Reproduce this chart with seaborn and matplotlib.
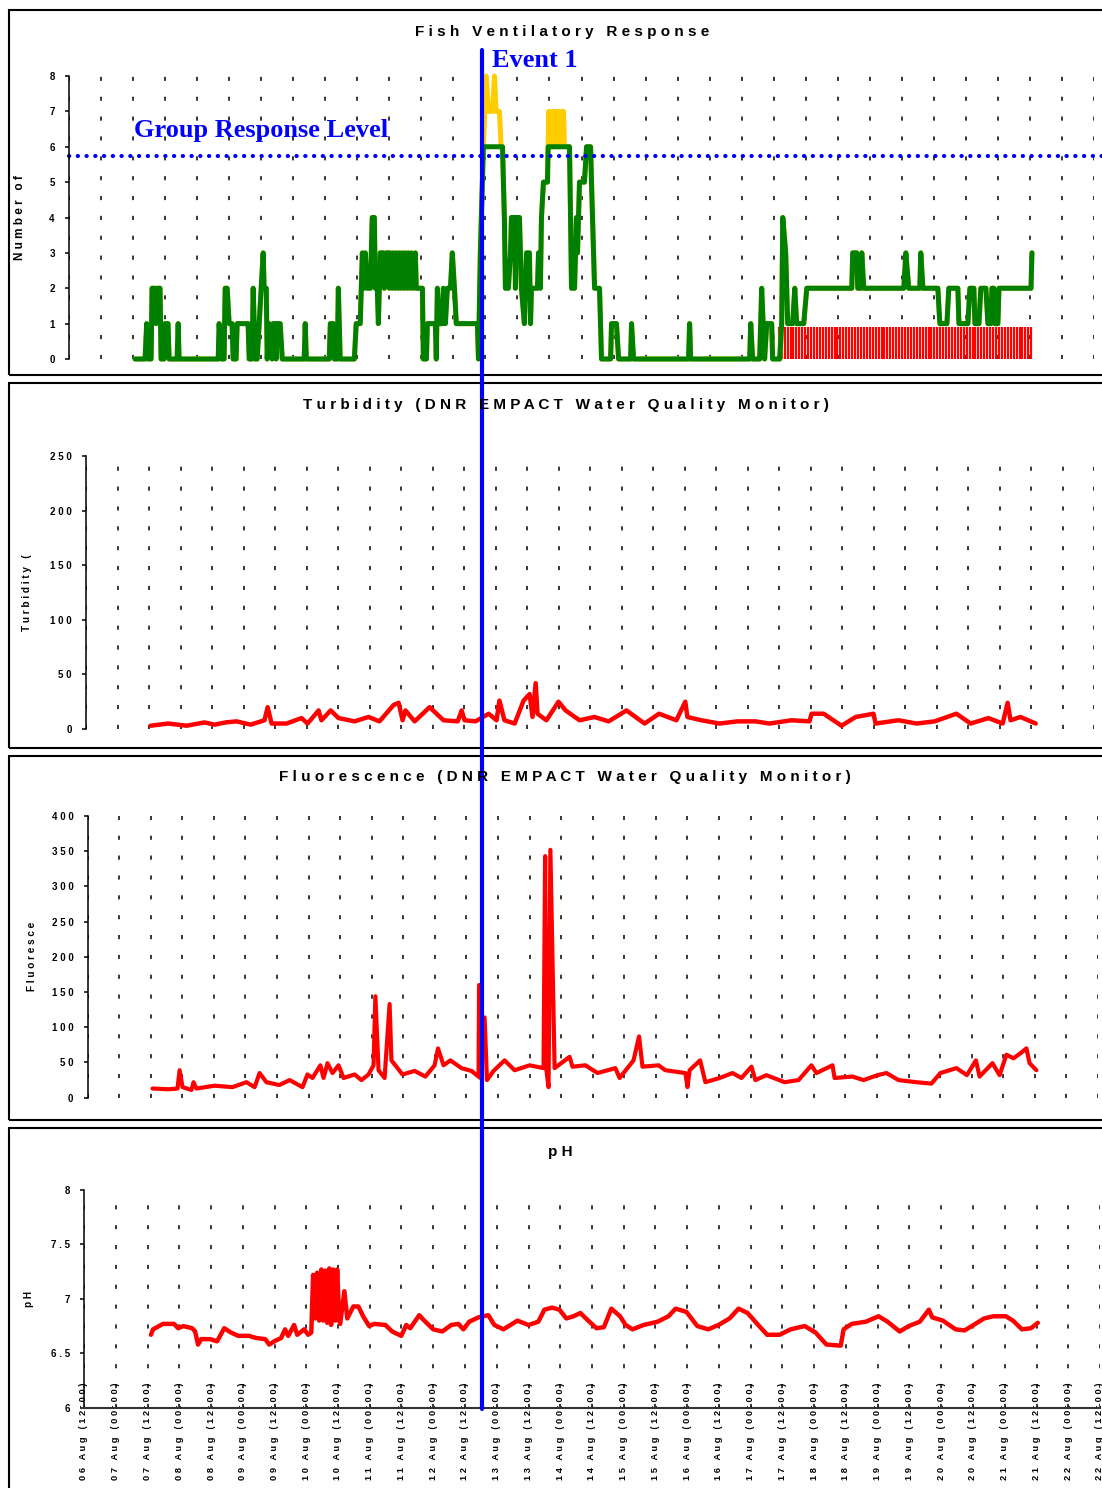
import numpy as np
import matplotlib
matplotlib.use('Agg')
import matplotlib.pyplot as plt
from matplotlib.lines import Line2D
from matplotlib.patches import Rectangle
import seaborn as sns

# all x values are hours after 06 Aug 12:00
tick_labels = ['06 Aug (12:00)', '07 Aug (00:00)', '07 Aug (12:00)', '08 Aug (00:00)', '08 Aug (12:00)',
               '09 Aug (00:00)', '09 Aug (12:00)', '10 Aug (00:00)', '10 Aug (12:00)', '11 Aug (00:00)',
               '11 Aug (12:00)', '12 Aug (00:00)', '12 Aug (12:00)', '13 Aug (00:00)', '13 Aug (12:00)',
               '14 Aug (00:00)', '14 Aug (12:00)', '15 Aug (00:00)', '15 Aug (12:00)', '16 Aug (00:00)',
               '16 Aug (12:00)', '17 Aug (00:00)', '17 Aug (12:00)', '18 Aug (00:00)', '18 Aug (12:00)',
               '19 Aug (00:00)', '19 Aug (12:00)', '20 Aug (00:00)', '20 Aug (12:00)', '21 Aug (00:00)',
               '21 Aug (12:00)', '22 Aug (00:00)', '22 Aug (12:00)']

# Fish ventilatory response: number of fish responding
fish_hours = [24.75, 28.5, 29.1, 29.6, 30.75, 31.1, 32.25, 32.6, 33, 34.1, 34.5, 35.6, 36, 37.1, 37.5, 40.5, 40.9, 41.25,
              55.9, 56.25, 57, 58.1, 58.5, 59.25, 60, 61.1, 61.5, 62.6, 63, 67.1, 67.5, 68.6, 69, 69.75, 70.5, 71.25,
              72, 72.75, 73.1, 73.9, 74.25, 75, 76.1, 76.5, 77.25, 77.6, 78, 79.1, 79.9, 88.1, 88.5, 88.9, 97.5, 97.9,
              99, 99.4, 100.5, 100.9, 101.6, 106.9, 107.6, 109.1, 109.9, 110.6, 111, 111.75, 112.9, 113.6, 114.4,
              114.75, 115.5, 115.9, 116.6, 117.75, 118.1, 118.9, 119.6, 120, 120.4, 121.1, 121.5, 122.25, 122.6,
              123.4, 123.75, 124.5, 124.9, 125.6, 126, 126.75, 127.1, 127.9, 128.25, 129, 129.75, 130.1, 132.4,
              132.75, 133.9, 134.25, 137.25, 137.6, 138, 138.75, 139.9, 140.25, 141, 141.75, 142.9, 143.6, 144.4,
              145.1, 153, 153.4, 154.1, 155.25, 156.25, 157.25, 158.75, 159.4, 160, 161.25, 161.9, 162.4, 163.1,
              163.5, 164.6, 165.4, 165.75, 166.9, 167.25, 167.6, 168.75, 169.5, 170.6, 171.4, 172.5, 172.9, 173.25,
              175.5, 175.9, 176.6, 177, 177.75, 179.25, 179.5, 179.75, 180.4, 181, 181.6, 182.2, 182.8, 183.4, 184,
              184.6, 185.25, 185.6, 187.5, 187.9, 188.25, 189.4, 190.1, 190.5, 191.25, 193.1, 193.9, 195.4, 195.75,
              196.9, 198.75, 199.5, 202.9, 203.25, 205.1, 205.9, 210.4, 210.75, 211.5, 232.1, 232.5, 232.9, 255,
              255.4, 256.1, 258.75, 259.5, 260.6, 261.4, 263.25, 263.6, 266.25, 267, 267.4, 268.5, 269.25, 271.1,
              271.9, 272.6, 275.25, 276.4, 293.25, 293.6, 295.1, 295.5, 296.6, 297, 297.75, 312.75, 313.5, 314.6,
              318.75, 319.1, 319.9, 325.5, 326.25, 328.9, 329.6, 333, 333.4, 336.75, 337.5, 339, 339.4, 340.9,
              341.6, 343.5, 344.25, 345.4, 345.75, 346.5, 346.9, 348, 348.4, 360.4, 360.75]
fish_count = [0, 0, 1, 0, 0, 2, 2, 1, 2, 2, 0, 0, 1, 1, 0, 0, 1, 0,
              0, 1, 0, 0, 2, 2, 1, 1, 0, 0, 1, 1, 0, 0, 2, 0, 0, 1,
              2, 3, 2, 2, 0, 1, 0, 1, 1, 0, 1, 1, 0, 0, 1, 0, 0, 1,
              1, 0, 0, 2, 0, 0, 1, 1, 3, 2, 3, 2, 2, 4, 4,
              2, 2, 1, 3, 3, 2, 3, 3, 2, 3, 2, 3, 2, 3,
              2, 3, 2, 3, 2, 3, 2, 3, 2, 3, 2, 3, 2, 2,
              0, 0, 1, 1, 0, 2, 1, 1, 2, 1, 2, 2, 3, 2,
              1, 1, 0, 3, 6, 8, 7, 7, 8, 7, 7, 6, 6, 4,
              2, 2, 3, 4, 4, 2, 4, 4, 2, 1, 3, 3, 1, 2,
              2, 3, 2, 4, 5, 5, 6, 7, 6, 7, 6, 7, 6, 7, 6,
              7, 7, 6, 6, 4, 2, 2, 4, 3, 5, 5, 6, 6, 5,
              2, 2, 0, 0, 1, 1, 0, 0, 1, 0, 0, 1, 0, 0,
              1, 0, 0, 2, 0, 1, 1, 0, 0, 1, 4, 3, 1, 1,
              2, 1, 1, 2, 2, 3, 3, 2, 2, 3, 2, 2, 3, 2,
              2, 3, 2, 2, 1, 1, 2, 2, 1, 1, 2, 2, 1, 1,
              2, 2, 1, 1, 2, 2, 1, 1, 2, 2, 3]
response_cap = 6          # counts above this are drawn in yellow
group_level = 5.75
red_start, red_end, red_step, red_level = 265.9, 361.1, 1.1, 0.9

# Turbidity (DNR EMPACT)
turb_hours = [24.6, 31.4, 38.3, 45.1, 49.0, 53.1, 57.3, 62.7, 68.0, 69.2, 70.7, 76.4, 82.1, 84.4, 88.6, 89.7, 93.2,
              96.2, 102.3, 107.6, 111.8, 117.2, 119.1, 120.6, 121.7, 125.2, 130.9, 136.2, 141.6, 143.1, 144.2, 148.4,
              153.4, 156.4, 157.5, 159.4, 163.3, 166.7, 169.0, 170.1, 171.3, 172.0, 175.4, 180.0, 182.7, 188.0, 193.7,
              199.1, 205.9, 212.8, 218.3, 224.9, 228.3, 229.1, 234.4, 241.3, 248.2, 255.0, 260.4, 268.8, 275.6, 276.4,
              281.0, 287.8, 293.2, 300.0, 300.8, 309.5, 316.4, 323.3, 331.6, 337.0, 343.8, 349.2, 351.1, 352.2, 356.0,
              361.8]
turb_vals = [3, 5, 3, 6, 4, 6, 7, 4, 8, 20, 5, 5, 10, 5, 17, 8, 17,
             10, 7, 11, 7, 22, 24, 8, 17, 7, 20, 8, 7, 17, 8, 7,
             14, 8, 26, 8, 5, 26, 32, 11, 42, 14, 8, 25, 17, 8, 11,
             7, 17, 5, 14, 8, 25, 11, 8, 5, 7, 7, 5, 8, 7, 14,
             14, 3, 11, 14, 5, 8, 5, 7, 14, 5, 10, 5, 24, 8, 11,
             5]

# Fluorescence (DNR EMPACT)
fl_hours = [24.7, 30.8, 34.2, 35.0, 36.1, 39.5, 40.3, 41.4, 48.3, 55.1, 60.4, 63.5, 65.4, 68.0, 72.9, 76.8, 81.7,
            83.6, 85.5, 88.5, 89.7, 91.2, 93.1, 95.4, 97.3, 101.5, 104.1, 106.8, 108.7, 109.4, 110.6, 112.9, 114.8,
            115.5, 119.7, 124.3, 128.4, 131.9, 133.2, 135.3, 137.9, 142.1, 145.9, 148.6, 148.8, 149.3, 150.9, 151.8,
            154.3, 158.5, 162.3, 168.0, 173.3, 173.9, 174.4, 175.2, 175.9, 177.5, 183.2, 184.3, 189.2, 193.8, 200.6,
            202.2, 207.5, 209.6, 210.9, 217.0, 219.6, 227.2, 228.0, 228.8, 232.8, 234.8, 240.2, 245.1, 248.5, 252.3,
            253.8, 258.0, 264.9, 270.2, 275.1, 277.0, 283.1, 283.9, 290.7, 294.9, 300.2, 303.6, 308.2, 315.0, 320.7,
            324.1, 330.2, 334.2, 337.6, 339.0, 343.9, 346.6, 349.2, 351.9, 354.5, 356.8, 358.0, 360.6]
fl_vals = [13, 12, 13, 39, 15, 11, 22, 13, 17, 15, 22, 15, 35, 22, 18, 25, 15,
           33, 28, 46, 28, 49, 35, 46, 28, 33, 25, 33, 46, 144, 39, 28, 133,
           53, 33, 38, 30, 46, 70, 46, 53, 42, 38, 30, 160, 28, 114, 25,
           38, 53, 39, 46, 42, 343, 39, 15, 352, 42, 58, 44, 46, 35, 42,
           28, 53, 87, 44, 46, 39, 35, 15, 39, 53, 22, 28, 35, 28, 44,
           25, 32, 22, 25, 46, 35, 46, 28, 30, 25, 32, 35, 25, 22, 20,
           35, 42, 32, 53, 30, 49, 32, 61, 56, 63, 70, 49, 39]

# pH
ph_hours = [25.3, 26.1, 29.9, 34.0, 35.6, 37.5, 40.9, 42.0, 43.1, 44.3, 47.7, 50.3, 53.0, 55.6, 58.3, 62.4, 65.1,
            68.5, 70.0, 71.9, 74.5, 76.0, 77.2, 79.4, 80.6, 83.2, 84.7, 85.9, 86.6, 87.4, 88.1, 88.9, 89.7, 90.4,
            91.2, 91.9, 92.7, 93.4, 94.2, 95.0, 95.7, 96.5, 96.8, 98.4, 99.5, 101.8, 103.7, 105.5, 107.8, 109.7,
            113.9, 116.5, 119.9, 121.8, 123.3, 126.7, 128.6, 132.0, 135.4, 138.8, 141.5, 143.4, 145.6, 149.1, 152.8,
            155.1, 158.5, 161.2, 163.8, 168.0, 171.7, 174.0, 176.9, 179.7, 182.3, 185.0, 187.6, 191.0, 193.7, 196.5,
            199.3, 202.6, 204.7, 207.3, 211.5, 216.8, 220.9, 223.6, 227.7, 231.8, 235.9, 239.8, 244.0, 247.4, 250.8,
            254.8, 258.2, 262.9, 267.1, 272.4, 276.5, 280.6, 286.0, 287.1, 290.2, 295.5, 300.3, 303.7, 308.3, 311.7,
            315.9, 319.3, 320.6, 324.6, 329.4, 332.8, 336.2, 340.2, 343.7, 348.4, 351.1, 354.5, 357.9, 360.5]
ph_vals = [6.67, 6.72, 6.77, 6.77, 6.73, 6.75, 6.73, 6.70, 6.58, 6.63, 6.63, 6.61, 6.73, 6.69, 6.66, 6.66, 6.64,
           6.63, 6.58, 6.61, 6.64, 6.72, 6.66, 6.76, 6.67, 6.72, 6.67, 6.69, 7.22, 6.82, 7.24, 6.80, 7.27, 6.80,
           7.26, 6.78, 7.28, 6.76, 7.27, 6.80, 7.27, 6.80, 6.77, 7.07, 6.82, 6.93, 6.93, 6.84, 6.75, 6.77,
           6.76, 6.70, 6.66, 6.76, 6.73, 6.85, 6.80, 6.72, 6.70, 6.76, 6.77, 6.72, 6.79, 6.83, 6.85,
           6.76, 6.72, 6.76, 6.80, 6.76, 6.79, 6.90, 6.92, 6.90, 6.82, 6.84, 6.87, 6.79, 6.73, 6.74,
           6.91, 6.84, 6.76, 6.72, 6.76, 6.79, 6.84, 6.91, 6.88, 6.75, 6.72, 6.76, 6.82, 6.91, 6.87,
           6.76, 6.67, 6.67, 6.72, 6.75, 6.69, 6.58, 6.57, 6.72, 6.77, 6.79, 6.84, 6.79, 6.70, 6.75,
           6.79, 6.90, 6.83, 6.80, 6.72, 6.71, 6.76, 6.82, 6.84, 6.84, 6.80, 6.72, 6.73, 6.78]

GREEN, YELLOW, RED, BLUE = '#008000', '#FFCC00', '#FF0000', '#0000FF'

sns.set_style('white')
plt.rcParams['font.family'] = ['Liberation Sans', 'DejaVu Sans']
plt.rcParams['font.weight'] = 'bold'

W, H = 1102, 1488
fig = plt.figure(figsize=(W / 100, H / 100), dpi=100)


def spaced(s):
    # the original renders its labels with wide letter spacing
    return ' '.join(s)


def add_panel(left, right, top, bottom):
    return fig.add_axes([left / W, 1 - bottom / H, (right - left) / W, (bottom - top) / H])


def style_panel(ax, yticks, ylabels, ylim, ylabel, label_x, label_size=7.2):
    ax.set_xlim(0, 384)
    ax.set_ylim(*ylim)
    ax.set_xticks(range(0, 385, 12))
    ax.set_yticks(yticks)
    ax.set_yticklabels([spaced(t) for t in ylabels], fontweight='bold')
    ax.grid(axis='x', color='black', linewidth=1.1, linestyle=(0, (2.7, 10.3)))
    for s in ['top', 'right', 'bottom']:
        ax.spines[s].set_visible(False)
    ax.spines['left'].set_color('black')
    ax.spines['left'].set_linewidth(1.1)
    ax.tick_params(axis='y', left=True, direction='out', length=3.2, width=1.1, pad=7,
                   labelsize=7, colors='black')
    ax.tick_params(axis='x', bottom=False, length=0, labelbottom=False)
    ax.set_facecolor('none')
    ax.set_ylabel(spaced(ylabel), fontsize=label_size, color='black', fontweight='bold')
    ax.yaxis.set_label_coords(label_x, 0.5)
    ax.yaxis.label.set_va('center')


def draw_series(ax, x, y, color, lw):
    sns.lineplot(x=x, y=y, ax=ax, color=color, linewidth=lw, estimator=None, sort=False)


# ---- Fish ventilatory response ----
ax1 = add_panel(69, 1094, 76, 359)
style_panel(ax1, range(0, 9), [str(i) for i in range(9)], (0, 8), 'Number of', (20 - 69) / 1025, 8.5)
red_x = np.arange(red_start, red_end, red_step)
ax1.vlines(red_x, 0, red_level, color=RED, linewidth=1.6)
draw_series(ax1, fish_hours, fish_count, YELLOW, 3.6)
draw_series(ax1, fish_hours, np.minimum(fish_count, response_cap), GREEN, 3.6)
ax1.axhline(group_level, xmin=0, xmax=1.01, color=BLUE, linewidth=3.0,
            linestyle=(0, (0.05, 2.05)), dash_capstyle='round')

# ---- Turbidity ----
ax2 = add_panel(86, 1094, 456, 729)
style_panel(ax2, range(0, 251, 50), [str(v) for v in range(0, 251, 50)], (0, 250),
            'Turbidity (', (27 - 86) / 1008)
draw_series(ax2, turb_hours, turb_vals, RED, 3.2)

# ---- Fluorescence ----
ax3 = add_panel(87.5, 1098, 816, 1097.7)
style_panel(ax3, range(0, 401, 50), [str(v) for v in range(0, 401, 50)], (0, 400),
            'Fluoresce', (32 - 87.5) / 1010.5)
draw_series(ax3, fl_hours, fl_vals, RED, 3.0)

# ---- pH ----
ax4 = add_panel(84, 1100, 1190, 1407.7)
style_panel(ax4, [6, 6.5, 7, 7.5, 8], ['6', '6.5', '7', '7.5', '8'], (6, 8), 'pH', (29.5 - 84) / 1016)
draw_series(ax4, ph_hours, ph_vals, RED, 3.2)
ax4.spines['bottom'].set_visible(True)
ax4.spines['bottom'].set_color('#333333')
ax4.spines['bottom'].set_linewidth(1.5)
ax4.set_xticklabels([spaced(t) for t in tick_labels], rotation=90, fontsize=6.7, fontweight='bold')
ax4.tick_params(axis='x', labelbottom=True, pad=-18, colors='black')

for ax in [ax1, ax2, ax3, ax4]:
    for line in ax.lines:
        line.set_clip_on(False)

# titles
title_kw = dict(ha='center', va='center', fontsize=11, fontweight='bold', color='black')
fig.text(562 / W, 1 - 32 / H, spaced('Fish Ventilatory Response'), **title_kw)
fig.text(566 / W, 1 - 405 / H, spaced('Turbidity (DNR EMPACT Water Quality Monitor)'), **title_kw)
fig.text(565 / W, 1 - 777 / H, spaced('Fluorescence (DNR EMPACT Water Quality Monitor)'), **title_kw)
fig.text(560 / W, 1 - 1152 / H, spaced('pH'), **title_kw)

# annotations
fig.text(134 / W, 1 - 137 / H, 'Group Response Level', ha='left', va='baseline', fontsize=19,
         family='Liberation Serif', weight='bold', color=BLUE)
fig.text(492 / W, 1 - 67 / H, 'Event 1', ha='left', va='baseline', fontsize=19,
         family='Liberation Serif', weight='bold', color=BLUE)
fig.add_artist(Line2D([482 / W, 482 / W], [1 - 50 / H, 1 - 1409 / H], color=BLUE, linewidth=3))

# panel frames
for top, bottom in [(10, 375), (383, 748), (756, 1120), (1128, 1560)]:
    fig.add_artist(Rectangle((9 / W, 1 - bottom / H), (1200 - 9) / W, (bottom - top) / H,
                             transform=fig.transFigure, fill=False, edgecolor='black', linewidth=1.5))

fig.savefig('out.png', dpi=100)
